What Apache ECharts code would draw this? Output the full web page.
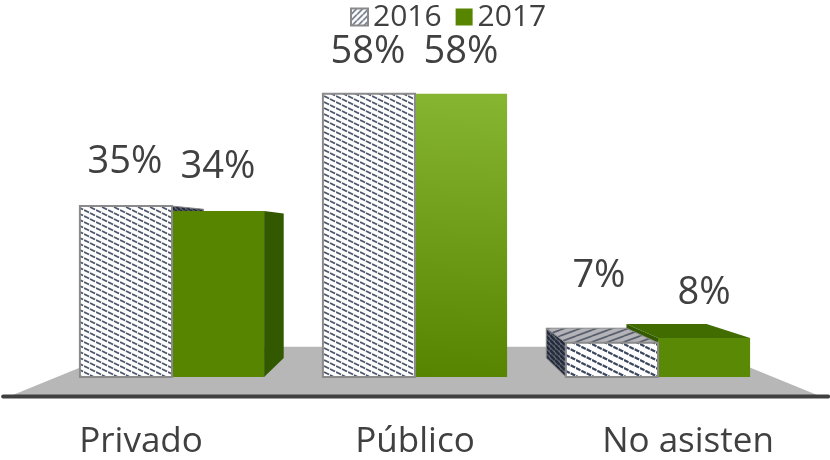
<!DOCTYPE html>
<html>
<head>
<meta charset="utf-8">
<style>
  html, body { margin: 0; padding: 0; background: #fff; }
  #chart { width: 830px; height: 460px; }
</style>
<script src="https://cdn.jsdelivr.net/npm/echarts@6/dist/echarts.min.js"></script>
</head>
<body>
<div id="chart"></div>
<script>
const categories = ["Privado", "Público", "No asisten"];
const values2016 = [35, 58, 7];
const values2017 = [34, 58, 8];

// label placement, px above the bar front
const labelLift2016 = [44, 42, 67];
const labelLift2017 = [44, 42, 45];
const labelShift2016 = [-1, -1, -13];
const labelFont = '38px "Open Sans"';
const textColor = "#404040";
// the category names sit off centre in the original
const categoryPadding = [[0, 62, 0, 0], [0, 0, 0, 0], [0, 0, 0, 60]];

const barShare = 0.379;
const depth = 0.13; // how far bars run back toward the vanishing point
const floorDepth = 0.3;
const horizon = 30; // vanishing point height, in axis units
const floorFront = -4.0;

function hatch(w, h, back, line, lw, flip, dash) {
  const c = document.createElement("canvas");
  c.width = w;
  c.height = h;
  const g = c.getContext("2d");
  g.fillStyle = back;
  g.fillRect(0, 0, w, h);
  g.strokeStyle = line;
  g.lineWidth = lw;
  if (dash) g.setLineDash(dash);
  for (let k = -1; k <= 1; k++) {
    g.beginPath();
    if (flip) {
      g.moveTo(0, h + k * h);
      g.lineTo(w, k * h);
    } else {
      g.moveTo(0, k * h);
      g.lineTo(w, h + k * h);
    }
    g.stroke();
  }
  return { image: c, repeat: "repeat" };
}

const fineHatch = hatch(12, 6, "#fff", "#4d586c", 1.8, false, [5.7, 1]);
const coarseHatch = hatch(16, 8, "#fff", "#3c4860", 2.2, false, [5, 0.97]);
const topHatch = hatch(16, 6, "#b4b4b8", "#5b6070", 1.8, true);
const sideHatch = hatch(5, 5, "#666b78", "#252c3c", 2.6, false);
const legendHatch = hatch(6, 6, "#fff", "#5a6478", 1.5, true);

const frontFill2017 = [
  "#578500",
  {
    type: "linear", x: 0, y: 1, x2: 0.15, y2: 0,
    colorStops: [
      { offset: 0, color: "#568400" },
      { offset: 1, color: "#86b532" },
    ],
  },
  "#5a8a05",
];

function poly(points, fill, z2, stroke, lineWidth) {
  return {
    type: "polygon",
    shape: { points: points },
    style: { fill: fill, stroke: stroke || null, lineWidth: lineWidth || 0 },
    z2: z2,
  };
}

function renderBar(year) {
  return function (params, api) {
    const cat = api.value(0);
    const val = api.value(1);
    const band = api.size([1, 0])[0];
    const w = band * barShare;
    const mid = api.coord([cat, 0])[0];
    const xl = year === 2016 ? mid - w : mid;
    const xr = xl + w;
    const base = api.coord([cat, 0])[1];
    const top = api.coord([cat, val])[1];
    const vp = [api.coord([1, 0])[0], api.coord([1, horizon])[1]];
    const back = (p) => [
      p[0] + (vp[0] - p[0]) * depth,
      p[1] + (vp[1] - p[1]) * depth,
    ];
    const is2016 = year === 2016;
    const kids = [];

    // side and top faces, only the ones turned toward the viewer
    if (xr < vp[0] - 1) {
      kids.push(poly(
        [[xr, top], back([xr, top]), back([xr, base]), [xr, base]],
        is2016 ? sideHatch : "#335900", 1,
        is2016 ? "#8a8a8a" : null, is2016 ? 1 : 0
      ));
    }
    if (xl > vp[0] + 1) {
      kids.push(poly(
        [[xl, top], back([xl, top]), back([xl, base]), [xl, base]],
        is2016 ? sideHatch : "#345a00", 1,
        is2016 ? "#8a8a8a" : null, is2016 ? 1 : 0
      ));
    }
    if (top > vp[1]) {
      kids.push(poly(
        [[xl, top], back([xl, top]), back([xr, top]), [xr, top]],
        is2016 ? topHatch : "#406c00", is2016 ? 2 : 1,
        is2016 ? "#8a8a8a" : null, is2016 ? 1 : 0
      ));
    }

    // front face
    const fill = is2016
      ? (cat === 2 ? coarseHatch : fineHatch)
      : frontFill2017[cat];
    kids.push({
      type: "rect",
      shape: { x: xl, y: top, width: w, height: base - top },
      style: {
        fill: fill,
        stroke: is2016 ? "#8a8a8a" : null,
        lineWidth: is2016 ? 2 : 0,
      },
      z2: is2016 ? 4 : 3,
    });

    const lift = is2016 ? labelLift2016[cat] : labelLift2017[cat];
    const shift = is2016 ? labelShift2016[cat] : 0;
    kids.push({
      type: "text",
      style: {
        text: val + "%",
        x: (xl + xr) / 2 + shift,
        y: top - lift,
        align: "center",
        verticalAlign: "middle",
        font: labelFont,
        fill: textColor,
      },
      z2: 6,
    });
    return { type: "group", children: kids };
  };
}

function renderFloor(params, api) {
  const band = api.size([1, 0])[0];
  const first = api.coord([0, 0])[0];
  const last = api.coord([2, 0])[0];
  const front = api.coord([0, floorFront])[1];
  const vp = [api.coord([1, 0])[0], api.coord([1, horizon])[1]];
  const fl = first - band * 0.67;
  const fr = last + band * 0.67;
  const back = (x) => [x + (vp[0] - x) * floorDepth, front + (vp[1] - front) * floorDepth];
  return {
    type: "group",
    children: [
      poly([[fl, front], back(fl), back(fr), [fr, front]], "#b7b7b7", 0),
      {
        type: "line",
        shape: {
          x1: first - band * 0.695, y1: front,
          x2: last + band * 0.70, y2: front,
        },
        style: { stroke: "#404040", lineWidth: 4, lineCap: "round" },
        z2: 1,
      },
    ],
  };
}

const chart = echarts.init(document.getElementById("chart"));
chart.setOption({
  animation: false,
  legend: {
    left: 345,
    top: -3,
    itemWidth: 17,
    itemHeight: 17,
    itemGap: 14,
    selectedMode: false,
    textStyle: { fontFamily: "Open Sans", fontSize: 30, color: textColor },
    data: [
      { name: "2016", icon: "rect", itemStyle: { color: legendHatch, borderColor: "#8a8a8a", borderWidth: 2 } },
      { name: "2017", icon: "rect", itemStyle: { color: "#578500" } },
    ],
  },
  grid: { left: 50.5, right: 50.5, top: 84, height: 293 },
  xAxis: {
    type: "category",
    data: categories.map((name, i) => ({
      value: name,
      textStyle: { padding: categoryPadding[i] },
    })),
    axisLine: { show: false },
    axisTick: { show: false },
    axisLabel: { margin: 48, fontFamily: "Open Sans", fontSize: 35, color: textColor, hideOverlap: false, interval: 0 },
  },
  yAxis: { type: "value", min: 0, max: 60, show: false },
  series: [
    {
      name: "floor",
      type: "custom",
      silent: true,
      renderItem: renderFloor,
      data: [[1, 0]],
      encode: { x: 0, y: 1 },
    },
    {
      name: "2016",
      type: "custom",
      silent: true,
      renderItem: renderBar(2016),
      itemStyle: { color: legendHatch },
      data: values2016.map((v, i) => [i, v]),
      encode: { x: 0, y: 1 },
    },
    {
      name: "2017",
      type: "custom",
      silent: true,
      renderItem: renderBar(2017),
      itemStyle: { color: "#578500" },
      data: values2017.map((v, i) => [i, v]),
      encode: { x: 0, y: 1 },
    },
  ],
});
</script>
</body>
</html>
